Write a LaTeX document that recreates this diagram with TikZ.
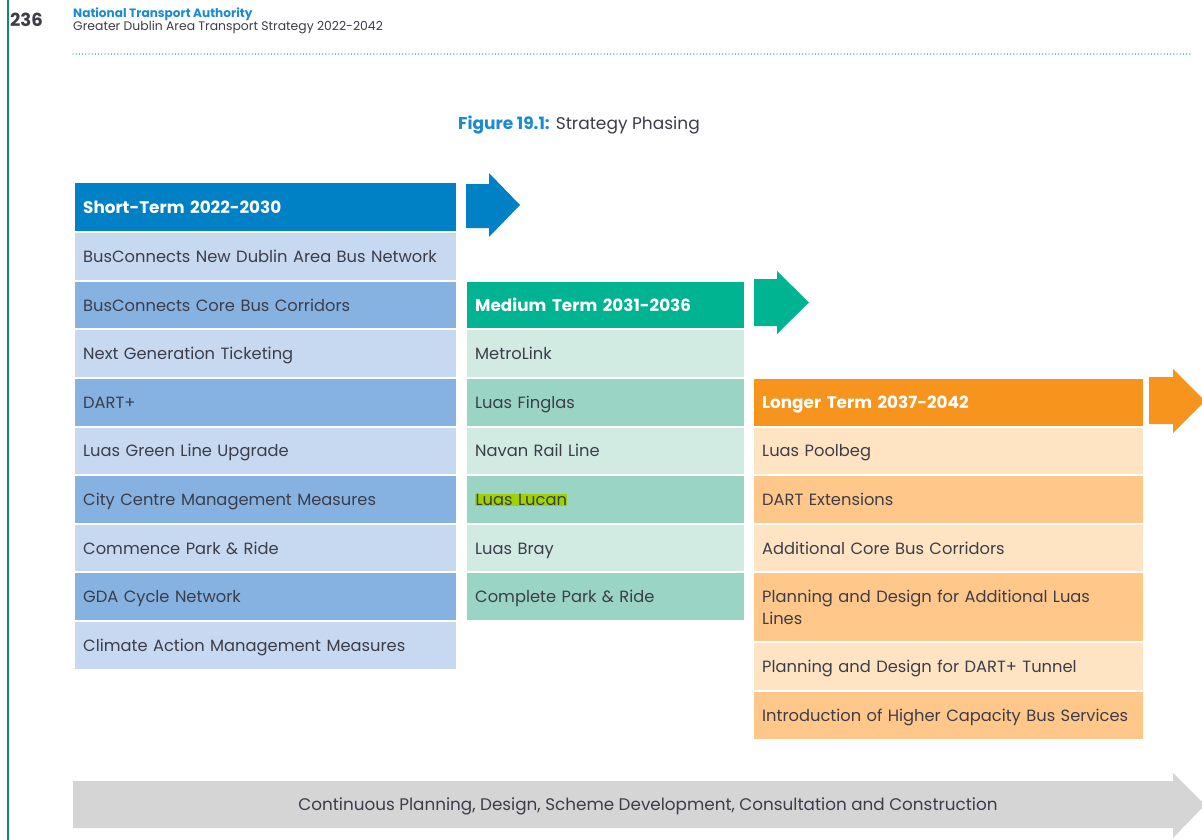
\documentclass[tikz,border=0pt]{standalone}
\usepackage{fontspec}
\setmainfont{Poppins}
\usepackage{xcolor}
\definecolor{hdrblue}{HTML}{0081C6}
\definecolor{slight}{HTML}{C6D9F0}
\definecolor{sdark}{HTML}{85B2E0}
\definecolor{hdrteal}{HTML}{00B391}
\definecolor{mlight}{HTML}{D1EBE2}
\definecolor{mdark}{HTML}{99D4C5}
\definecolor{hdrorange}{HTML}{F7941E}
\definecolor{llight}{HTML}{FFE4C4}
\definecolor{ldark}{HTML}{FFC88A}
\definecolor{greyarrow}{HTML}{D5D5D5}
\definecolor{txt}{HTML}{3D3D4A}
\definecolor{pageline}{HTML}{12876A}
\definecolor{ntablue}{HTML}{1B8BD0}
\definecolor{hilite}{HTML}{9FD300}
\begin{document}
\begin{tikzpicture}[x=1pt,y=-1pt,
  cellbase/.style={anchor=north west,inner sep=0pt,minimum height=#1,align=left,font=\fontsize{16.3}{19}\selectfont,text=txt,text height=11.8pt,text depth=0pt},
  cellbase/.default=46.6,
  scell/.style={cellbase,minimum width=381,text width=365},
  mcell/.style={cellbase,minimum width=277,text width=261},
  lcell/.style={cellbase,minimum width=389,text width=373},
  hdr/.style={font=\fontsize{16.8}{19}\selectfont\bfseries,text=white}
]
\useasboundingbox (0,0) rectangle (1202,840);
\fill[white] (0,0) rectangle (1202,840);
% page decorations
\draw[pageline,line width=2pt] (8,0) -- (8,840);
\node[anchor=base west,inner sep=0pt,font=\fontsize{18}{20}\selectfont\bfseries,text=txt] (pagenum) at (10,27) {236};
\node[anchor=base west,inner sep=0pt,font=\fontsize{12.1}{14}\selectfont\bfseries,text=ntablue] (nta) at (73,18) {National Transport Authority};
\node[anchor=base west,inner sep=0pt,font=\fontsize{12.4}{14}\selectfont,text=txt] (gda) at (73,31) {Greater Dublin Area Transport Strategy 2022-2042};
\draw[ntablue,line width=1.4pt,line cap=round,dash pattern=on 0pt off 3.2pt] (73,54) -- (1190,54);
% title
\node[anchor=base,inner sep=0pt,font=\fontsize{17}{20}\selectfont] (title) at (579,130) {\textcolor{ntablue}{\bfseries Figure 19.1:} \textcolor{txt}{Strategy Phasing}};

% Short term
\node[scell,minimum height=48,fill=hdrblue,hdr] (sh) at (75,183) {Short-Term 2022-2030};
\node[scell,fill=slight] (s1) at (75,233) {BusConnects New Dublin Area Bus Network};
\node[scell,fill=sdark] (s2) at (75,281.6) {BusConnects Core Bus Corridors};
\node[scell,fill=slight] (s3) at (75,330.2) {Next Generation Ticketing};
\node[scell,fill=sdark] (s4) at (75,378.8) {DART+};
\node[scell,fill=slight] (s5) at (75,427.4) {Luas Green Line Upgrade};
\node[scell,fill=sdark] (s6) at (75,476) {City Centre Management Measures};
\node[scell,fill=slight] (s7) at (75,524.6) {Commence Park \& Ride};
\node[scell,fill=sdark] (s8) at (75,573.2) {GDA Cycle Network};
\node[scell,fill=slight] (s9) at (75,621.8) {Climate Action Management Measures};
\fill[hdrblue] (466,184) -- (489,184) -- (489,173) -- (520,205) -- (489,237) -- (489,228) -- (466,228) -- cycle;

% Medium term
\node[mcell,fill=hdrteal,hdr] (mh) at (467,281.6) {Medium Term 2031-2036};
\node[mcell,fill=mlight] (m1) at (467,330.2) {MetroLink};
\node[mcell,fill=mdark] (m2) at (467,378.8) {Luas Finglas};
\node[mcell,fill=mlight] (m3) at (467,427.4) {Navan Rail Line};
\node[mcell,fill=mdark] (m4) at (467,476) {{\setlength\fboxsep{0.5pt}\colorbox{hilite}{Luas Lucan}}};
\node[mcell,fill=mlight] (m5) at (467,524.6) {Luas Bray};
\node[mcell,fill=mdark] (m6) at (467,573.2) {Complete Park \& Ride};
\fill[hdrteal] (754,279) -- (777,279) -- (777,271) -- (809,302.5) -- (777,334) -- (777,326) -- (754,326) -- cycle;

% Longer term
\node[lcell,fill=hdrorange,hdr] (lh) at (754,378.8) {Longer Term 2037-2042};
\node[lcell,fill=llight] (l1) at (754,427.4) {Luas Poolbeg};
\node[lcell,fill=ldark] (l2) at (754,476) {DART Extensions};
\node[lcell,fill=llight] (l3) at (754,524.6) {Additional Core Bus Corridors};
\node[lcell,fill=ldark,minimum height=68,font=\fontsize{16.3}{22}\selectfont,text depth=22pt] (l4) at (754,573.2) {Planning and Design for Additional Luas\\Lines};
\node[lcell,fill=llight] (l5) at (754,643.2) {Planning and Design for DART+ Tunnel};
\node[lcell,fill=ldark] (l6) at (754,691.8) {Introduction of Higher Capacity Bus Services};
\fill[hdrorange] (1149,377) -- (1173,377) -- (1173,369) -- (1205,401) -- (1173,433) -- (1173,424) -- (1149,424) -- cycle;

% Bottom continuous arrow
\fill[greyarrow] (73,781) -- (1173,781) -- (1173,773) -- (1205,805) -- (1173,838) -- (1173,828) -- (73,828) -- cycle;
\node[anchor=center,inner sep=0pt,font=\fontsize{16.8}{19}\selectfont,text=txt,text height=11.8pt,text depth=0pt] (cont) at (648,805) {Continuous Planning, Design, Scheme Development, Consultation and Construction};
\end{tikzpicture}
\end{document}
